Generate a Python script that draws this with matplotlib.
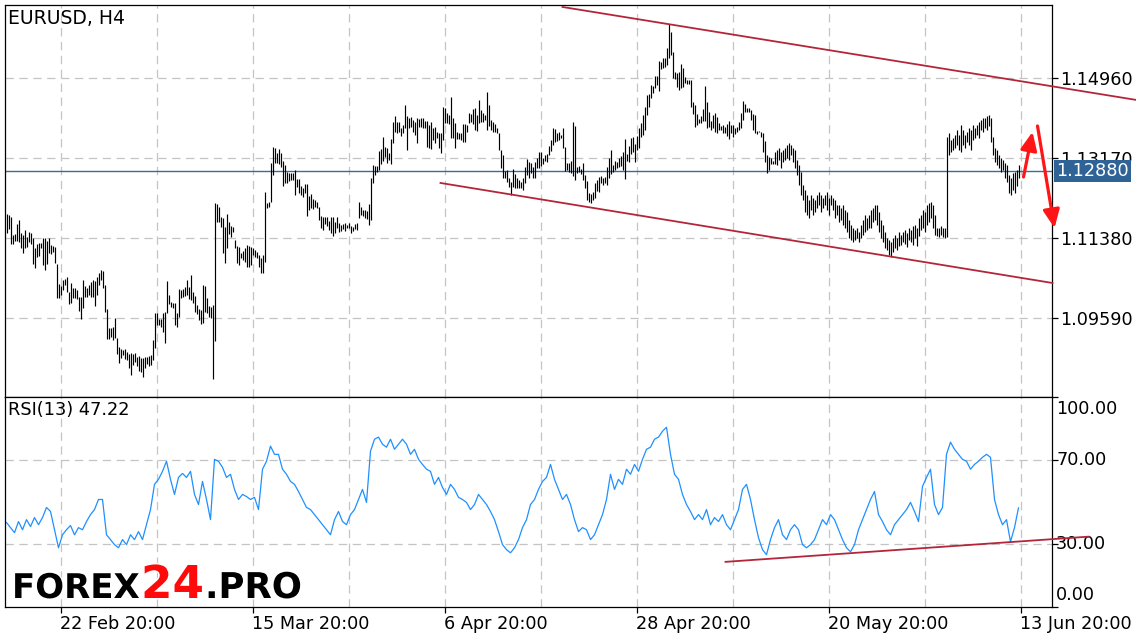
import numpy as np
import matplotlib
matplotlib.use("Agg")
import matplotlib.pyplot as plt
import matplotlib.transforms as mtransforms
import matplotlib.patheffects as pe

plt.rcParams['font.family'] = ['DejaVu Sans']
plt.rcParams['lines.scale_dashes'] = False

# ---------------- data ----------------
symbol_title = "EURUSD, H4"
rsi_title = "RSI(13) 47.22"
price_ticks = [1.14960, 1.13170, 1.11380, 1.09590]
last_price = 1.12880
rsi_ticks = [100, 70, 30, 0]
rsi_grid = [30, 70]
date_labels = ["22 Feb 20:00", "15 Mar 20:00", "6 Apr 20:00",
               "28 Apr 20:00", "20 May 20:00", "13 Jun 20:00"]
date_label_bars = [27, 123, 219, 315, 411, 507]
grid_bars = [27, 75, 123, 171, 219, 267, 315, 363, 411, 459, 507]

high_1 = [1.11917, 1.11894, 1.11857, 1.11447, 1.11462, 1.11686, 1.11782, 1.11499, 1.11447, 1.11559,
          1.11409, 1.11521, 1.11484, 1.11372, 1.11163, 1.11238, 1.11260, 1.11275, 1.11387, 1.11372,
          1.11320, 1.11372, 1.11223, 1.11208, 1.11186, 1.10798, 1.10343, 1.10313, 1.10440, 1.10462,
          1.10514, 1.10179, 1.10365, 1.10268, 1.10253, 1.10216, 1.10067, 1.10059, 1.10440, 1.10313,
          1.10253, 1.10328, 1.10387, 1.10440, 1.10417, 1.10514, 1.10589, 1.10663, 1.10641, 1.10328,
          1.09791, 1.09373, 1.09358, 1.09395, 1.09597, 1.09134, 1.08948, 1.08895, 1.08873, 1.08895,
          1.08836, 1.08776, 1.08798, 1.08776, 1.08798]
low_1 = [1.11484, 1.11574, 1.11238, 1.11238, 1.11320, 1.11313, 1.11298, 1.11163, 1.11051, 1.11148,
         1.11186, 1.11298, 1.11238, 1.10790, 1.10701, 1.10962, 1.10977, 1.11148, 1.10775, 1.10656,
         1.10790, 1.11036, 1.11022, 1.11074, 1.10813, 1.10044, 1.10044, 1.10104, 1.10216, 1.10328,
         1.10164, 1.09895, 1.09917, 1.10029, 1.10029, 1.10007, 1.09746, 1.09567, 1.09806, 1.10067,
         1.10067, 1.10104, 1.10067, 1.10067, 1.09865, 1.10104, 1.10328, 1.10440, 1.10253, 1.09716,
         1.09119, 1.09119, 1.09171, 1.09097, 1.09134, 1.08776, 1.08590, 1.08687, 1.08761, 1.08672,
         1.08649, 1.08463, 1.08314, 1.08537, 1.08612]

high_2 = [1.08724, 1.08739, 1.08687, 1.08687, 1.08724, 1.08724, 1.08739, 1.08761, 1.09097, 1.09694,
          1.09709, 1.09560, 1.09567, 1.09694, 1.09731, 1.10417, 1.10104, 1.09955, 1.09933, 1.09918,
          1.09694, 1.10238, 1.10216, 1.10231, 1.10291, 1.10440, 1.10291, 1.10552, 1.10179, 1.10082,
          1.09880, 1.09791, 1.09768, 1.10328, 1.10306, 1.10029, 1.09858, 1.09843, 1.09880, 1.12156,
          1.12141, 1.12081, 1.11842, 1.11820, 1.11633, 1.11917, 1.11745, 1.11648, 1.11618, 1.11335,
          1.11201, 1.11186, 1.11052, 1.11089, 1.11148, 1.11223, 1.11201, 1.11171, 1.11148, 1.11111,
          1.11074, 1.10999, 1.10925, 1.10999]
low_2 = [1.08515, 1.08411, 1.08388, 1.08261, 1.08478, 1.08552, 1.08515, 1.08537, 1.08649, 1.08925,
         1.09433, 1.09433, 1.09395, 1.09283, 1.09022, 1.09694, 1.09903, 1.09843, 1.09806, 1.09433,
         1.09395, 1.09604, 1.10029, 1.10067, 1.10089, 1.10104, 1.10007, 1.09992, 1.09933, 1.09731,
         1.09671, 1.09545, 1.09455, 1.09470, 1.09731, 1.09694, 1.09619, 1.09582, 1.08217, 1.09082,
         1.11745, 1.11745, 1.11633, 1.11037, 1.10813, 1.11148, 1.11469, 1.11410, 1.11521, 1.11148,
         1.10828, 1.10775, 1.10925, 1.10887, 1.10850, 1.10723, 1.10723, 1.10775, 1.10999, 1.10962,
         1.10925, 1.10738, 1.10604, 1.10589]

high_3 = [1.12416, 1.12170, 1.12193, 1.13051, 1.13424, 1.13386, 1.13274, 1.13364, 1.13289, 1.13110,
          1.13013, 1.12864, 1.12842, 1.12827, 1.12842, 1.12901, 1.12693, 1.12693, 1.12543, 1.12491,
          1.12588, 1.12588, 1.12320, 1.12357, 1.12245, 1.12230, 1.12193, 1.12081, 1.11872, 1.11857,
          1.11857, 1.11842, 1.11767, 1.11842, 1.11857, 1.11745, 1.11857, 1.11723, 1.11670, 1.11693,
          1.11708, 1.11670, 1.11708, 1.11648, 1.11633, 1.11693, 1.11723, 1.12193, 1.12081, 1.12006,
          1.12006, 1.11991, 1.12141, 1.12715, 1.13013, 1.12991, 1.12991, 1.13327, 1.13364, 1.13632,
          1.13424, 1.13386, 1.13289, 1.13588]
low_3 = [1.10850, 1.12043, 1.12081, 1.12193, 1.12789, 1.13051, 1.13066, 1.13036, 1.12976, 1.12543,
         1.12618, 1.12618, 1.12663, 1.12678, 1.12678, 1.12342, 1.12513, 1.12379, 1.12342, 1.12305,
         1.12379, 1.11872, 1.12006, 1.12043, 1.12021, 1.12066, 1.12043, 1.11782, 1.11611, 1.11559,
         1.11685, 1.11648, 1.11559, 1.11484, 1.11432, 1.11499, 1.11596, 1.11521, 1.11544, 1.11574,
         1.11544, 1.11596, 1.11596, 1.11499, 1.11544, 1.11574, 1.11559, 1.11820, 1.11894, 1.11872,
         1.11820, 1.11797, 1.11670, 1.11782, 1.12603, 1.12789, 1.12864, 1.12901, 1.13036, 1.13110,
         1.13200, 1.13066, 1.13125, 1.13036]

high_4 = [1.13982, 1.14117, 1.13967, 1.13967, 1.13848, 1.13908, 1.14355, 1.14117, 1.14057, 1.14094,
          1.14020, 1.13982, 1.14072, 1.14042, 1.14057, 1.14057, 1.13997, 1.13997, 1.13908, 1.13967,
          1.13848, 1.13870, 1.13744, 1.13736, 1.13736, 1.14318, 1.14281, 1.14169, 1.14132, 1.14542,
          1.14057, 1.13945, 1.13759, 1.13736, 1.13721, 1.13923, 1.13923, 1.13908, 1.14169, 1.14147,
          1.14266, 1.14281, 1.14132, 1.14467, 1.14243, 1.14169, 1.14132, 1.14654, 1.14355, 1.14020,
          1.13967, 1.13923, 1.13848, 1.13721, 1.13348, 1.13236, 1.12878, 1.12901, 1.12714, 1.12640,
          1.12923, 1.12804, 1.12714, 1.12677]
low_4 = [1.13497, 1.13759, 1.13721, 1.13759, 1.13669, 1.13721, 1.13833, 1.13348, 1.13833, 1.13870,
         1.13759, 1.13684, 1.13497, 1.13856, 1.13870, 1.13848, 1.13833, 1.13423, 1.13386, 1.13363,
         1.13572, 1.13497, 1.13609, 1.13401, 1.13274, 1.13572, 1.13945, 1.13945, 1.13923, 1.13609,
         1.13609, 1.13386, 1.13594, 1.13587, 1.13572, 1.13535, 1.13520, 1.13759, 1.13945, 1.13967,
         1.13923, 1.13796, 1.13774, 1.13945, 1.13982, 1.13982, 1.14020, 1.13796, 1.13893, 1.13796,
         1.13759, 1.13759, 1.13721, 1.13348, 1.12938, 1.12714, 1.12714, 1.12640, 1.12528, 1.12341,
         1.12528, 1.12490, 1.12490, 1.12490]

high_5 = [1.12640, 1.12715, 1.12976, 1.13147, 1.13088, 1.13065, 1.12976, 1.13088, 1.13162, 1.13311,
          1.13296, 1.13162, 1.13237, 1.13259, 1.13438, 1.13572, 1.13834, 1.13819, 1.13722, 1.13744,
          1.13684, 1.13849, 1.13423, 1.13050, 1.13065, 1.13103, 1.13968, 1.13893, 1.12976, 1.12991,
          1.12916, 1.13050, 1.12789, 1.12662, 1.12379, 1.12357, 1.12416, 1.12603, 1.12677, 1.12752,
          1.12774, 1.12730, 1.12752, 1.12976, 1.13162, 1.13349, 1.13013, 1.13103, 1.13088, 1.13162,
          1.13214, 1.13311, 1.13587, 1.13252, 1.13438, 1.13610, 1.13647, 1.13476, 1.13662, 1.13849,
          1.13945, 1.14132, 1.14318, 1.14580]
low_5 = [1.12506, 1.12453, 1.12603, 1.12789, 1.12730, 1.12826, 1.12715, 1.12715, 1.12953, 1.12938,
         1.12998, 1.13028, 1.13110, 1.13088, 1.13237, 1.13326, 1.13461, 1.13535, 1.13550, 1.13572,
         1.13610, 1.13401, 1.12879, 1.12901, 1.12864, 1.12826, 1.12774, 1.12677, 1.12841, 1.12864,
         1.12804, 1.12677, 1.12491, 1.12230, 1.12192, 1.12155, 1.12230, 1.12282, 1.12431, 1.12416,
         1.12603, 1.12565, 1.12603, 1.12565, 1.12715, 1.12804, 1.12864, 1.12901, 1.12938, 1.12976,
         1.12998, 1.12901, 1.12700, 1.13103, 1.13088, 1.13252, 1.13311, 1.13088, 1.13349, 1.13386,
         1.13647, 1.13684, 1.13796, 1.14132]

high_6 = [1.14595, 1.14803, 1.14789, 1.15012, 1.15012, 1.15341, 1.15326, 1.15400, 1.15415, 1.15624,
          1.16161, 1.15997, 1.15549, 1.15087, 1.15064, 1.15087, 1.15266, 1.15176, 1.14990, 1.14915,
          1.14915, 1.14915, 1.14430, 1.14356, 1.14147, 1.14042, 1.14117, 1.14266, 1.14788, 1.14415,
          1.14207, 1.13998, 1.14132, 1.14169, 1.14095, 1.13945, 1.13886, 1.13908, 1.13871, 1.13923,
          1.13998, 1.13908, 1.13908, 1.13834, 1.13871, 1.13968, 1.14169, 1.14445, 1.14371, 1.14296,
          1.14281, 1.14244, 1.14147, 1.14132, 1.13774, 1.13774, 1.13759, 1.13722, 1.13550, 1.13237,
          1.13199, 1.13177, 1.13103, 1.13311]
low_6 = [1.14318, 1.14520, 1.14617, 1.14729, 1.14803, 1.14669, 1.15162, 1.15176, 1.15214, 1.15251,
         1.15400, 1.15475, 1.14953, 1.14930, 1.14766, 1.14691, 1.14729, 1.14766, 1.14841, 1.14818,
         1.14818, 1.14318, 1.14147, 1.13871, 1.13908, 1.13945, 1.13945, 1.13998, 1.13998, 1.13834,
         1.13871, 1.13796, 1.13834, 1.13744, 1.13722, 1.13796, 1.13796, 1.13722, 1.13722, 1.13669,
         1.13595, 1.13722, 1.13647, 1.13699, 1.13744, 1.13796, 1.13834, 1.14020, 1.14207, 1.14207,
         1.14192, 1.14020, 1.13796, 1.13722, 1.13699, 1.13744, 1.13647, 1.13296, 1.13088, 1.12826,
         1.12901, 1.13028, 1.13028, 1.13028]

high_7 = [1.13349, 1.13394, 1.13304, 1.13349, 1.13394, 1.13461, 1.13506, 1.13461, 1.13394, 1.13349,
          1.13125, 1.13013, 1.12857, 1.12566, 1.12454, 1.12342, 1.12230, 1.12342, 1.12275, 1.12230,
          1.12342, 1.12409, 1.12342, 1.12275, 1.12342, 1.12409, 1.12275, 1.12342, 1.12275, 1.12230,
          1.12118, 1.12118, 1.12051, 1.12118, 1.12006, 1.11962, 1.11783, 1.11671, 1.11604, 1.11559,
          1.11604, 1.11514, 1.11671, 1.11783, 1.11895, 1.11828, 1.11895, 1.12006, 1.12051, 1.12118,
          1.12118, 1.11962, 1.11783, 1.11671, 1.11514, 1.11380, 1.11335, 1.11290, 1.11380, 1.11447,
          1.11380, 1.11514, 1.11447, 1.11514, 1.11559, 1.11492, 1.11604, 1.11559, 1.11648, 1.11671,
          1.11604, 1.11828, 1.11895, 1.12006, 1.11962, 1.12118, 1.12163, 1.12185, 1.12118, 1.11895,
          1.11604, 1.11604, 1.11648, 1.11604, 1.11604, 1.13640, 1.13729, 1.13573, 1.13617, 1.13685,
          1.13796, 1.13685, 1.13908, 1.13796, 1.13685, 1.13752, 1.13841, 1.13796, 1.13908, 1.13841,
          1.13908, 1.13975, 1.14020, 1.14065, 1.14065, 1.14110, 1.14132, 1.14065, 1.13640, 1.13394,
          1.13349, 1.13237, 1.13170, 1.13125, 1.13058, 1.13013, 1.12790, 1.12723, 1.12834, 1.12857,
          1.12901, 1.13013]
low_7 = [1.13013, 1.13125, 1.12946, 1.13080, 1.13125, 1.13170, 1.13125, 1.13237, 1.13080, 1.12946,
         1.12790, 1.12566, 1.12342, 1.12230, 1.11962, 1.11895, 1.11828, 1.12006, 1.11895, 1.11962,
         1.12051, 1.12118, 1.11962, 1.12051, 1.12118, 1.12006, 1.11895, 1.12118, 1.12006, 1.11828,
         1.11895, 1.11738, 1.11783, 1.11671, 1.11604, 1.11514, 1.11380, 1.11335, 1.11290, 1.11335,
         1.11380, 1.11290, 1.11380, 1.11447, 1.11514, 1.11559, 1.11604, 1.11604, 1.11738, 1.11783,
         1.11671, 1.11514, 1.11380, 1.11290, 1.11156, 1.11111, 1.10999, 1.10954, 1.11066, 1.11156,
         1.11111, 1.11201, 1.11223, 1.11290, 1.11246, 1.11179, 1.11335, 1.11290, 1.11223, 1.11380,
         1.11201, 1.11425, 1.11559, 1.11604, 1.11514, 1.11671, 1.11738, 1.11828, 1.11604, 1.11447,
         1.11425, 1.11402, 1.11447, 1.11402, 1.11380, 1.11402, 1.13237, 1.13304, 1.13349, 1.13394,
         1.13461, 1.13349, 1.13304, 1.13461, 1.13394, 1.13528, 1.13461, 1.13349, 1.13573, 1.13617,
         1.13685, 1.13617, 1.13796, 1.13752, 1.13841, 1.13796, 1.13886, 1.13528, 1.13237, 1.13080,
         1.13013, 1.12946, 1.12857, 1.12901, 1.12723, 1.12633, 1.12387, 1.12342, 1.12454, 1.12387,
         1.12544, 1.12723]

# RSI(13), one reading every second bar
rsi_values = [40.2, 37.8, 35.4, 40.7, 36.8, 41.6, 38.3, 42.6, 39.2, 42.6,
              47.4, 45.5, 36.8, 28.2, 34.4, 36.8, 38.8, 34.4, 37.8, 36.8,
              40.7, 44.0, 46.4, 51.2, 51.2, 34.4, 32.1, 29.7, 28.2, 32.1,
              29.7, 34.4, 32.1, 35.9, 32.1, 39.2, 46.4, 58.4, 60.8, 64.6,
              69.4, 60.8, 53.6, 61.7, 63.6, 61.7, 64.6, 53.6, 48.8, 59.8,
              51.2, 41.6, 70.3, 69.4, 66.5, 61.7, 63.2, 56.0, 51.2, 53.6,
              52.6, 51.2, 52.2, 46.4, 65.6, 69.4, 76.6, 72.7, 72.7, 65.6,
              63.2, 59.8, 58.4, 55.0, 51.2, 47.4, 46.4, 44.0, 41.6, 39.2,
              36.8, 34.4, 41.6, 45.5, 40.7, 39.2, 44.0, 46.4, 51.2, 56.0,
              49.8, 74.2, 79.9, 80.9, 77.5, 76.1, 79.9, 75.1, 77.5, 79.9,
              77.5, 72.7, 75.1, 70.3, 67.9, 65.6, 64.6, 58.4, 61.7, 56.9,
              53.6, 58.4, 56.0, 52.2, 51.2, 49.8, 46.4, 48.8, 53.6, 51.2,
              48.8, 45.5, 41.6, 35.9, 29.7, 27.3, 25.8, 28.2, 32.1, 37.8,
              41.6, 48.8, 51.2, 56.0, 59.8, 61.7, 67.9, 60.8, 56.0, 51.2,
              53.6, 48.8, 41.6, 35.9, 37.8, 36.8, 32.1, 34.4, 39.2, 44.0,
              51.2, 63.2, 56.0, 60.8, 58.4, 65.6, 63.2, 67.9, 64.6, 70.3,
              75.1, 76.1, 79.9, 80.9, 83.7, 85.6, 72.7, 63.2, 60.8, 53.6,
              48.8, 45.5, 41.6, 44.0, 41.6, 46.4, 39.2, 42.6, 40.7, 44.0,
              39.2, 36.8, 41.6, 46.4, 56.0, 58.4, 51.2, 41.6, 33.0, 27.3,
              24.9, 32.1, 37.8, 41.6, 34.4, 32.1, 36.8, 39.2, 36.8, 29.7,
              28.2, 29.7, 32.1, 36.8, 41.6, 39.2, 44.0, 41.6, 36.8, 32.1,
              28.2, 26.3, 29.7, 36.8, 41.6, 46.4, 51.2, 55.0, 44.0, 40.7,
              36.8, 34.4, 39.2, 41.6, 44.0, 46.4, 49.8, 45.5, 40.7, 57.4,
              61.7, 65.6, 48.8, 44.0, 47.4, 72.7, 78.5, 75.1, 72.7, 70.3,
              69.4, 65.6, 67.9, 69.4, 71.3, 72.7, 71.3, 51.2, 44.0, 39.2,
              41.6, 31.1, 37.8, 47.22]

# hand-drawn analysis lines: (bar index, price / rsi)
channel_upper_bars = [278, 565]
channel_upper_price = [1.16549, 1.14468]
channel_lower_bars = [217, 523]
channel_lower_price = [1.12611, 1.10373]
rsi_support_bars = [359.5, 541]
rsi_support_value = [21.5, 33.5]
arrow_up = [(508.5, 1.12745), (513.0, 1.13752)]
arrow_down = [(515.5, 1.13886), (524.0, 1.11604)]

high = np.concatenate([high_1, high_2, high_3, high_4, high_5, high_6, high_7])
low = np.concatenate([low_1, low_2, low_3, low_4, low_5, low_6, low_7])
bars = np.arange(len(high))
rsi_bars = np.arange(0, len(high), 2)[:len(rsi_values)]

# ---------------- figure ----------------
W, H = 1136, 640
fig = plt.figure(figsize=(W / 100, H / 100), dpi=100)
fig.patch.set_facecolor('white')


def px_rect(x0, y0, x1, y1):
    return [x0 / W, 1 - y1 / H, (x1 - x0) / W, (y1 - y0) / H]


ax = fig.add_axes(px_rect(5, 5, 1052, 397))
ax2 = fig.add_axes(px_rect(5, 397, 1052, 607), sharex=ax)

GRID = '#C4C4C4'
DASH = (0, (6, 4))
RED_LINE = '#B3263A'
TXT = 12.7

for a in (ax, ax2):
    for s in a.spines.values():
        s.set_linewidth(0.9)
        s.set_color('black')
    for b in grid_bars:
        a.axvline(b, color=GRID, lw=0.9, ls=DASH, zorder=0)

ax.set_xlim(-0.75, 522.75)
ax.set_ylim(1.07822, 1.16593)
for p in price_ticks:
    ax.axhline(p, color=GRID, lw=0.9, ls=DASH, zorder=0)

ax.vlines(bars, low, high, color='black', lw=0.85, zorder=2)
ax.axhline(last_price, color='#3D6B98', lw=1.0, zorder=1.5)

ax.plot(channel_upper_bars, channel_upper_price, color=RED_LINE, lw=1.3,
        clip_on=False, zorder=4)
ax.plot(channel_lower_bars, channel_lower_price, color=RED_LINE, lw=1.3,
        clip_on=False, zorder=4)

for (s, e) in (arrow_up, arrow_down):
    an = ax.annotate('', xy=e, xytext=s, annotation_clip=False,
                     arrowprops=dict(arrowstyle='-|>,head_length=1.1,head_width=0.5',
                                     mutation_scale=10, color='#FF1515', lw=2.3,
                                     shrinkA=0, shrinkB=0))
    an.arrow_patch.set_clip_on(False)
    an.set_zorder(6)

ax.yaxis.tick_right()
ax.set_yticks(price_ticks)
ax.set_yticklabels([f'{p:.5f}' for p in price_ticks])
ax.tick_params(axis='y', direction='out', length=4, width=0.9, pad=1.5,
               labelsize=TXT, colors='black')
ax.tick_params(axis='x', bottom=False, labelbottom=False)

trans_price = mtransforms.blended_transform_factory(ax.transAxes, ax.transData)
ax.text(1.0 + 4 / 1047, last_price, f'{last_price:.5f}', transform=trans_price,
        ha='left', va='center', color='white', fontsize=TXT, zorder=5, clip_on=False,
        bbox=dict(boxstyle='square,pad=0.13', fc='#2F6396', ec='none'))

# RSI panel
ax2.set_ylim(0, 100)
for v in rsi_grid:
    ax2.axhline(v, color=GRID, lw=0.9, ls=DASH, zorder=0)
ax2.plot(rsi_bars, rsi_values, color='#1E90FF', lw=0.9, zorder=2)
ax2.plot(rsi_support_bars, rsi_support_value, color=RED_LINE, lw=1.3,
         clip_on=False, zorder=4)

ax2.yaxis.tick_right()
ax2.set_yticks(rsi_ticks)
ax2.set_yticklabels([])
ax2.tick_params(axis='y', direction='out', length=4, width=0.9)
trans_rsi = mtransforms.blended_transform_factory(ax2.transAxes, ax2.transData)
for v in rsi_ticks:
    if v == 100:
        va, off = 'top', -1.2
    elif v == 0:
        va, off = 'bottom', 1.2
    else:
        va, off = 'center', 0
    ax2.text(1.0 + 4 / 1047, v + off, f'{v:.2f}', transform=trans_rsi, ha='left',
             va=va, fontsize=TXT, clip_on=False)

ax2.set_xticks(date_label_bars)
ax2.set_xticklabels(date_labels, ha='left')
ax2.tick_params(axis='x', direction='out', length=4, width=0.9, pad=2,
                labelsize=TXT)

fig.text(8 / W, 1 - 19 / H, symbol_title, fontsize=13.5, va='center', ha='left')
fig.text(8 / W, 1 - 410 / H, rsi_title, fontsize=12.8, va='center', ha='left')

# watermark
fig.canvas.draw()
renderer = fig.canvas.get_renderer()
wm_parts = [("FOREX", '#000000', 12, 140), ("24", '#FF0A0A', 141, 204), (".PRO", '#000000', 205, 302)]
for txt, col, x0, x1 in wm_parts:
    t = fig.text(x0 / W, 1 - 598 / H, txt, color=col, fontsize=26, fontweight='bold',
                 ha='left', va='baseline', zorder=10,
                 path_effects=[pe.withStroke(linewidth=2, foreground='white')])
    w = t.get_window_extent(renderer).width
    t.set_fontsize(26 * (x1 - x0) / w)

fig.savefig('out.png', dpi=100, facecolor='white')
